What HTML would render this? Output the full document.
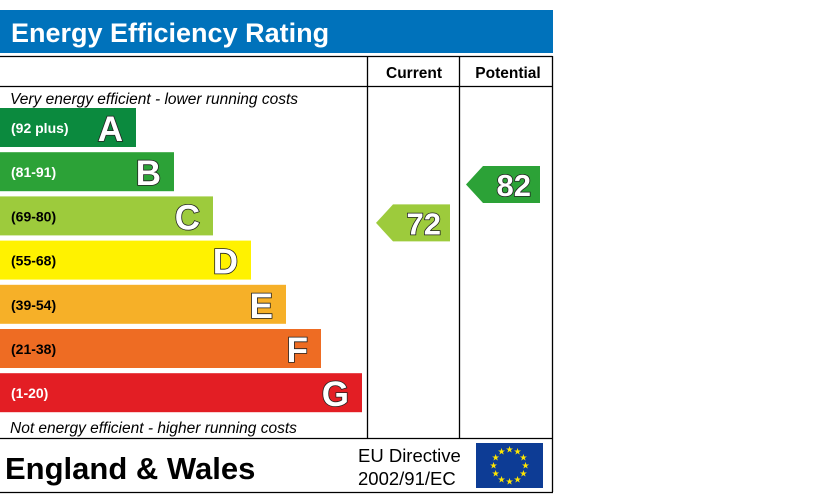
<!DOCTYPE html>
<html><head><meta charset="utf-8"><style>
body{margin:0;background:#fff;width:819px;height:497px;overflow:hidden}
text{font-family:"Liberation Sans",Arial,sans-serif}
</style></head><body>
<svg id="c" width="819" height="497" xmlns="http://www.w3.org/2000/svg">
<rect x="0" y="10" width="553" height="43" fill="#0072bb"/>
<text x="11" y="42" font-size="27" font-weight="bold" fill="#fff">Energy Efficiency Rating</text>
<g fill="none" stroke="#000" stroke-width="1.3">
<line x1="0" y1="56.5" x2="552.5" y2="56.5"/><line x1="552.5" y1="56" x2="552.5" y2="492"/>
<line x1="0" y1="492.5" x2="553" y2="492.5"/><line x1="0" y1="86.5" x2="552" y2="86.5"/>
<line x1="0" y1="438.5" x2="552" y2="438.5"/>
<line x1="367.5" y1="56" x2="367.5" y2="438"/><line x1="459.5" y1="56" x2="459.5" y2="438"/>
</g>
<text x="414" y="78" font-size="15.5" font-weight="bold" text-anchor="middle">Current</text>
<text x="508" y="78" font-size="15.5" font-weight="bold" text-anchor="middle">Potential</text>
<text x="10" y="104" font-size="15.5" font-style="italic">Very energy efficient - lower running costs</text>
<text x="10" y="433" font-size="15.5" font-style="italic">Not energy efficient - higher running costs</text>
<g id="bars"></g>
<g id="arrows"></g>
<text x="5" y="479" font-size="31" font-weight="bold">England &amp; Wales</text>
<text x="358" y="462" font-size="18.5">EU Directive</text>
<text x="358" y="485" font-size="18.5">2002/91/EC</text>
<rect x="476" y="443" width="67" height="45" fill="#0d3c95"/>
<g id="stars" fill="#ffe600"></g>
</svg>
<script>
const bands=["A","B","C","D","E","F","G"];
const ranges=["(92 plus)","(81-91)","(69-80)","(55-68)","(39-54)","(21-38)","(1-20)"];
const colors=["#0b8a3e","#2ca237","#9dcb3c","#fff200","#f6b028","#ee6c23","#e31e24"];
const currentRating=72, potentialRating=82;
const ns="http://www.w3.org/2000/svg";
function mk(t,a,p){const e=document.createElementNS(ns,t);for(const k in a)e.setAttribute(k,a[k]);p.appendChild(e);return e;}
const barEnd=[136,174,213,251,286,321,362];
const bg=document.getElementById('bars');
function bandY(i){return 108+i*44.2;}
bands.forEach((b,i)=>{
  const y=bandY(i);
  const r=mk('rect',{x:0,y:y,width:barEnd[i],height:39,fill:colors[i]},bg);
  
  
  const t=mk('text',{x:11,y:y+25,'font-size':14,'font-weight':'bold',fill:(i>=2&&i<=5)?'#000':'#fff'},bg);
  t.textContent=ranges[i];
  
  
  const l=mk('text',{x:barEnd[i]-13,y:y+33,'font-size':35,'font-weight':'bold','text-anchor':'end',fill:'#fff',stroke:'#222','stroke-width':1.6,'paint-order':'stroke'},bg);
  l.textContent=b;
  
  
});
function bandOf(v){return v>=92?0:v>=81?1:v>=69?2:v>=55?3:v>=39?4:v>=21?5:6;}
const ag=document.getElementById('arrows');
function arrow(v,x0,name){
  const i=bandOf(v);
  const yy=i===1?166:bandY(i)+8;
  const w=74,h=37;
  const p=mk('polygon',{points:`${x0},${yy+h/2} ${x0+17},${yy} ${x0+w},${yy} ${x0+w},${yy+h} ${x0+17},${yy+h}`,fill:colors[i]},ag);
  
  
  const t=mk('text',{x:x0+w-9,y:yy+30,'font-size':31,'font-weight':'bold','text-anchor':'end',fill:'#fff',stroke:'#222','stroke-width':1.6,'paint-order':'stroke'},ag);
  t.textContent=v;
  
  
}
arrow(currentRating,376,'current-rating');
arrow(potentialRating,466,'potential-rating');
const sg=document.getElementById('stars');
for(let k=0;k<12;k++){const a=k*Math.PI/6;const s=mk('text',{x:509.5+16*Math.sin(a),y:468.5-16*Math.cos(a),'font-size':9,'text-anchor':'middle'},sg);s.textContent='★';

}
</script>
</body></html>
